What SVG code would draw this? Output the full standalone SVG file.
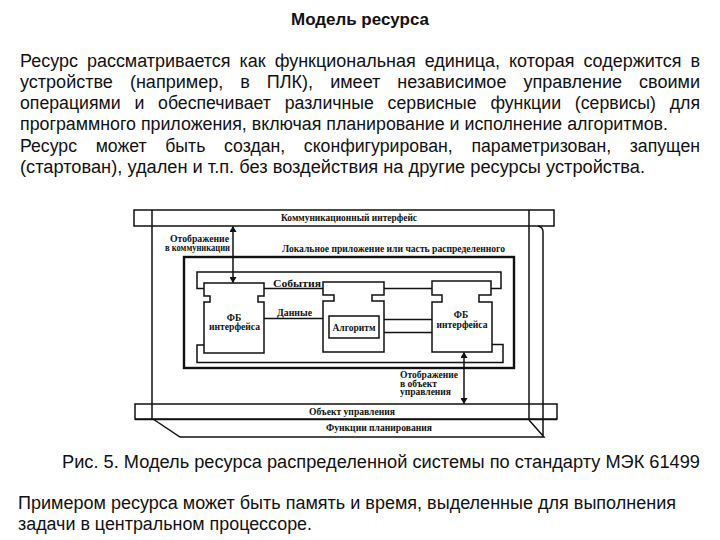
<svg xmlns="http://www.w3.org/2000/svg" width="720" height="540" viewBox="0 0 720 540">
<defs>
<style>
.ln{fill:none;stroke:#111;stroke-width:1.5}
.thick{stroke-width:2.4}
.lbl{font-family:"Liberation Serif","Times New Roman",serif;font-weight:bold;font-size:9.5px;fill:#111}
.body{font-family:"Liberation Sans",Arial,sans-serif;font-size:18px;fill:#111}
.ttl{font-family:"Liberation Sans",Arial,sans-serif;font-size:16px;font-weight:bold;fill:#111}
</style>
<marker id="ah" viewBox="0 0 10 10" refX="9" refY="5" markerWidth="6" markerHeight="7" markerUnits="userSpaceOnUse" orient="auto-start-reverse" preserveAspectRatio="none">
<path d="M0,0 L10,5 L0,10 Z" fill="#111"/>
</marker>
</defs>
<rect width="720" height="540" fill="#fff"/>

<g id="text-block">
<text class="ttl" x="360" y="25" text-anchor="middle" textLength="138" lengthAdjust="spacingAndGlyphs">Модель ресурса</text>
<text class="body" x="20" y="67" textLength="680" lengthAdjust="spacingAndGlyphs" word-spacing="4">Ресурс рассматривается как функциональная единица, которая содержится в</text>
<text class="body" x="20" y="88" textLength="680" lengthAdjust="spacingAndGlyphs" word-spacing="12">устройстве (например, в ПЛК), имеет независимое управление своими</text>
<text class="body" x="20" y="109" textLength="680" lengthAdjust="spacingAndGlyphs" word-spacing="9">операциями и обеспечивает различные сервисные функции (сервисы) для</text>
<text class="body" x="20" y="130" textLength="648" lengthAdjust="spacingAndGlyphs">программного приложения, включая планирование и исполнение алгоритмов.</text>
<text class="body" x="20" y="152" textLength="680" lengthAdjust="spacingAndGlyphs" word-spacing="14">Ресурс может быть создан, сконфигурирован, параметризован, запущен</text>
<text class="body" x="20" y="173" textLength="625" lengthAdjust="spacingAndGlyphs">(стартован), удален и т.п. без воздействия на другие ресурсы устройства.</text>
<text class="body" x="62" y="468" textLength="638" lengthAdjust="spacingAndGlyphs">Рис. 5. Модель ресурса распределенной системы по стандарту МЭК 61499</text>
<text class="body" x="18" y="509" textLength="658" lengthAdjust="spacingAndGlyphs">Примером ресурса может быть память и время, выделенные для выполнения</text>
<text class="body" x="18" y="530" textLength="294" lengthAdjust="spacingAndGlyphs">задачи в центральном процессоре.</text>
</g>

<g id="resource-box">
<path class="ln" d="M152,210 V419 M529,210 V420 M538,226 Q543,227 543,232 V437 M153,419 L180,437 H544 L529,420"/>
</g>

<g id="comm-interface">
<rect class="ln" x="134" y="210" width="420" height="16"/>
<text class="lbl" x="349" y="221" text-anchor="middle" textLength="136" lengthAdjust="spacingAndGlyphs">Коммуникационный интерфейс</text>
</g>

<g id="control-object">
<rect class="ln" x="135" y="404" width="422" height="15"/>
<line class="ln" x1="135" y1="419.5" x2="557" y2="419.5" stroke-width="1.9"/>
<text class="lbl" x="352" y="415" text-anchor="middle" textLength="86" lengthAdjust="spacingAndGlyphs">Объект управления</text>
</g>

<g id="planning-functions">
<text class="lbl" x="379" y="431" text-anchor="middle" textLength="106" lengthAdjust="spacingAndGlyphs">Функции планирования</text>
</g>

<g id="local-app">
<rect class="ln thick" x="184" y="257" width="330" height="111"/>
<text class="lbl" x="282" y="252" textLength="223" lengthAdjust="spacingAndGlyphs">Локальное приложение или часть распределенного</text>
</g>

<g id="fb-interface-1">
<path class="ln" d="M204,283 H264 V296 H258 V302 H264 V353 H204 V302 H210 V296 H204 Z"/>
<text class="lbl" x="234" y="321" text-anchor="middle">ФБ</text>
<text class="lbl" x="234.5" y="329.5" text-anchor="middle" textLength="51" lengthAdjust="spacingAndGlyphs">интерфейса</text>
</g>

<g id="fb-algorithm">
<path class="ln" d="M323,282 H384 V295 H372 V301 H384 V352 H323 V301 H334 V295 H323 Z"/>
<rect class="ln" x="329" y="316" width="50" height="22"/>
<text class="lbl" x="354" y="330.5" text-anchor="middle" textLength="43" lengthAdjust="spacingAndGlyphs">Алгоритм</text>
</g>

<g id="fb-interface-2">
<path class="ln" d="M432,281 H491 V295 H479 V302 H492 V352 H432 V302 H442 V295 H432 Z"/>
<text class="lbl" x="461" y="318" text-anchor="middle">ФБ</text>
<text class="lbl" x="462" y="327.5" text-anchor="middle" textLength="51" lengthAdjust="spacingAndGlyphs">интерфейса</text>
</g>

<g id="connectors">
<path class="ln" d="M204,288.5 H197 V272 H501 V288.5 H491"/>
<path class="ln" d="M264,288.5 H323 M384,288.5 H432"/>
<path class="ln" d="M204,345 H197 V362.5 H503 V344.5 H492"/>
<path class="ln" d="M264,318.5 H323 M384,319.5 H432 M384,332.5 H432"/>
<line class="ln" x1="233" y1="226.5" x2="233" y2="282.5" marker-start="url(#ah)" marker-end="url(#ah)"/>
<line class="ln" x1="464" y1="352.5" x2="464" y2="403.5" marker-start="url(#ah)" marker-end="url(#ah)"/>
<text class="lbl" x="273" y="287" textLength="48" lengthAdjust="spacingAndGlyphs">События</text>
<text class="lbl" x="277" y="316" textLength="35" lengthAdjust="spacingAndGlyphs">Данные</text>
<text class="lbl" x="229" y="242" text-anchor="end" textLength="59" lengthAdjust="spacingAndGlyphs">Отображение</text>
<text class="lbl" x="230" y="250.5" text-anchor="end" textLength="65" lengthAdjust="spacingAndGlyphs">в коммуникации</text>
<text class="lbl" x="400" y="378" textLength="58" lengthAdjust="spacingAndGlyphs">Отображение</text>
<text class="lbl" x="400" y="386.5" textLength="37" lengthAdjust="spacingAndGlyphs">в объект</text>
<text class="lbl" x="400" y="395" textLength="51" lengthAdjust="spacingAndGlyphs">управления</text>
</g>
</svg>
